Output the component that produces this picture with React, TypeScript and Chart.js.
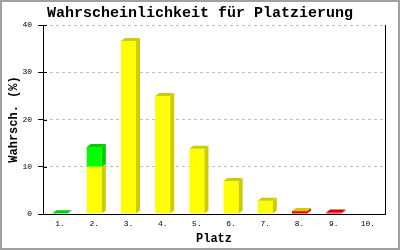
import React, { useEffect, useRef } from "react";
import { Chart, registerables } from "chart.js";

Chart.register(...registerables);

const categories = ["1.", "2.", "3.", "4.", "5.", "6.", "7.", "8.", "9.", "10."];
const redValues = [0, 0, 0, 0, 0, 0, 0, 0.6, 0.3, 0];
const yellowValues = [0, 10.0, 36.6, 25.0, 13.8, 7.0, 2.8, 0.05, 0, 0];
const greenValues = [0.15, 4.2, 0, 0, 0, 0, 0, 0, 0, 0];
const yTicks = [0, 10, 20, 30, 40];

const frontColors = ["#ff0000", "#ffff00", "#00ff00"];
const sideColors = ["#cc0000", "#cccc00", "#00cc00"];

const FONT = "'Liberation Mono', 'DejaVu Sans Mono', monospace";

const bar3d = {
  id: "bar3d",
  afterDatasetsDraw(chart: any) {
    const ctx = chart.ctx;
    const dx = 4;
    const dy = 3;
    const n = chart.data.labels.length;
    const topDs: number[] = new Array(n).fill(-1);
    chart.data.datasets.forEach((ds: any, di: number) =>
      ds.data.forEach((v: number, i: number) => {
        if (v > 0) topDs[i] = di;
      })
    );
    ctx.save();
    chart.data.datasets.forEach((ds: any, di: number) => {
      const meta = chart.getDatasetMeta(di);
      meta.data.forEach((el: any, i: number) => {
        const v = ds.data[i];
        if (!(v > 0)) return;
        const { x, y, base, width } = el.getProps(["x", "y", "base", "width"], true);
        const l = x - width / 2;
        const r = x + width / 2;
        ctx.fillStyle = sideColors[di];
        ctx.beginPath();
        ctx.moveTo(r, y);
        ctx.lineTo(r + dx, y - dy);
        ctx.lineTo(r + dx, base - dy);
        ctx.lineTo(r, base);
        ctx.closePath();
        ctx.fill();
        if (topDs[i] === di) {
          ctx.beginPath();
          ctx.moveTo(l, y);
          ctx.lineTo(l + dx, y - dy);
          ctx.lineTo(r + dx, y - dy);
          ctx.lineTo(r, y);
          ctx.closePath();
          ctx.fill();
        }
      });
    });
    ctx.restore();
  },
  afterDraw(chart: any) {
    const ctx = chart.ctx;
    const ys = chart.scales.y;
    const left = chart.chartArea.left;
    ctx.save();
    ctx.strokeStyle = "#000";
    ctx.lineWidth = 1;
    yTicks.forEach((v) => {
      const py = Math.round(ys.getPixelForValue(v)) + 0.5;
      ctx.beginPath();
      ctx.moveTo(left, py);
      ctx.lineTo(left + 4, py);
      ctx.stroke();
    });
    ctx.strokeStyle = "#a0a0a0";
    ctx.lineWidth = 2;
    ctx.strokeRect(1, 1, chart.width - 2, chart.height - 2);
    ctx.restore();
  },
};

export default function App() {
  const ref = useRef<HTMLCanvasElement | null>(null);
  useEffect(() => {
    document.body.style.margin = "0";
    const names = ["rot", "gelb", "grün"];
    const values = [redValues, yellowValues, greenValues];
    const chart = new Chart(ref.current as HTMLCanvasElement, {
      type: "bar",
      data: {
        labels: categories,
        datasets: values.map((d, i) => ({
          label: names[i],
          data: d,
          backgroundColor: frontColors[i],
          borderWidth: 0,
          categoryPercentage: 1,
          barPercentage: 0.44,
          yAxisID: "y",
        })),
      },
      options: {
        animation: false,
        responsive: true,
        maintainAspectRatio: false,
        layout: { padding: 0 },
        plugins: {
          legend: { display: false },
          tooltip: { enabled: false },
          title: {
            display: true,
            text: "Wahrscheinlichkeit für Platzierung",
            color: "#000",
            font: { family: FONT, size: 15, weight: "bold", lineHeight: 1.2 },
            padding: { top: 4, bottom: 3 },
          },
        },
        scales: {
          x: {
            stacked: true,
            grid: { display: false, drawTicks: false },
            border: { display: true, color: "#000", width: 1 },
            ticks: { color: "#000", font: { family: FONT, size: 8 }, padding: 5, maxRotation: 0, autoSkip: false },
            title: {
              display: true,
              text: "Platz",
              color: "#000",
              font: { family: FONT, size: 12, weight: "bold", lineHeight: 1.2 },
              padding: { top: 0, bottom: 4 },
            },
            afterFit: (s: any) => {
              s.height = 36;
            },
          },
          y: {
            stacked: true,
            min: 0,
            max: 40,
            grid: {
              color: (c: any) => (c.tick && c.tick.value === 0 ? "rgba(0,0,0,0)" : "#c0c0c0"),
              tickColor: "#000",
              tickLength: 5,
              lineWidth: 1,
            },
            border: { display: true, color: "#000", width: 1, dash: [3, 3] },
            ticks: {
              stepSize: 10,
              color: "#000",
              font: { family: FONT, size: 8 },
              padding: 6,
            },
            afterBuildTicks: (s: any) => {
              s.ticks = yTicks.map((v) => ({ value: v }));
            },
            title: {
              display: true,
              text: "Wahrsch. (%)",
              color: "#000",
              font: { family: FONT, size: 12, weight: "bold", lineHeight: 1.2 },
              padding: { top: 7, bottom: 0 },
            },
            afterFit: (s: any) => {
              s.width = 43;
            },
          },
          y2: {
            type: "linear",
            position: "right",
            display: true,
            grid: { display: false, drawTicks: false },
            ticks: { display: false },
            border: { display: true, color: "#000", width: 1 },
            afterFit: (s: any) => {
              s.width = 15;
            },
          },
        },
      },
      plugins: [bar3d],
    } as any);
    return () => chart.destroy();
  }, []);
  return (
    <div style={{ position: "relative", width: 400, height: 250 }}>
      <canvas ref={ref} />
    </div>
  );
}
